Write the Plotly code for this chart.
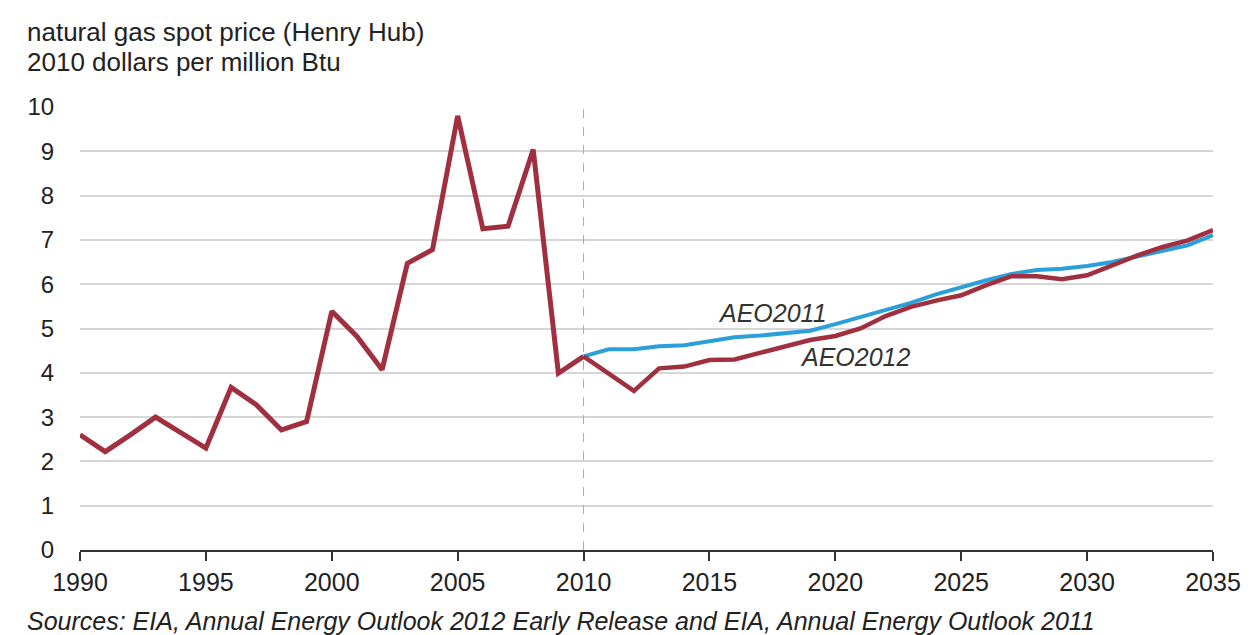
import plotly.graph_objects as go

hist_years = list(range(1990, 2011))
hist_price = [2.60, 2.22, 2.60, 3.00, 2.65, 2.30, 3.67, 3.28, 2.71, 2.90, 5.39,
              4.82, 4.07, 6.47, 6.78, 9.80, 7.25, 7.31, 9.04, 3.99, 4.37]

proj_years = list(range(2010, 2036))
aeo2012 = [4.37, 3.98, 3.59, 4.10, 4.14, 4.29, 4.30, 4.45, 4.60, 4.74, 4.83,
           5.00, 5.28, 5.49, 5.63, 5.75, 5.98, 6.18, 6.18, 6.11, 6.20, 6.43,
           6.65, 6.84, 6.99, 7.22]
aeo2011 = [4.37, 4.53, 4.53, 4.60, 4.62, 4.72, 4.80, 4.84, 4.89, 4.95, 5.10,
           5.26, 5.41, 5.58, 5.77, 5.94, 6.09, 6.23, 6.32, 6.35, 6.41, 6.50,
           6.62, 6.76, 6.88, 7.11]

x_ticks = [1990, 1995, 2000, 2005, 2010, 2015, 2020, 2025, 2030, 2035]
y_ticks = list(range(0, 11))

RED = "#A0303F"
BLUE = "#2B9FD9"
FONT = "Liberation Sans, Arial, sans-serif"
TXT = "#222222"

fig = go.Figure()
fig.add_trace(go.Scatter(x=proj_years, y=aeo2011, mode="lines",
                         line=dict(color=BLUE, width=4), name="AEO2011"))
fig.add_trace(go.Scatter(x=proj_years, y=aeo2012, mode="lines",
                         line=dict(color=RED, width=4.5), name="AEO2012"))
fig.add_trace(go.Scatter(x=hist_years, y=hist_price, mode="lines",
                         line=dict(color=RED, width=5), name="History"))

fig.add_shape(type="line", x0=2010, x1=2010, y0=0, y1=10, xref="x", yref="y",
              line=dict(color="#AAAAAA", width=1, dash="dash"))

fig.update_layout(
    width=1260, height=635,
    margin=dict(l=72, r=55, t=99, b=93),
    paper_bgcolor="white", plot_bgcolor="white",
    showlegend=False,
    font=dict(family=FONT, size=20, color=TXT),
    xaxis=dict(range=[1990, 2035], tickvals=x_ticks, showgrid=False,
               showline=True, linecolor="#333333", linewidth=2,
               ticks="outside", ticklen=9, tickwidth=2, tickcolor="#333333",
               tickfont=dict(size=25, color=TXT), zeroline=False),
    yaxis=dict(range=[0, 10], tickvals=y_ticks, showgrid=True,
               gridcolor="#D6D6D6", gridwidth=2, showline=False,
               zeroline=False, ticks="outside", ticklen=20,
               tickcolor="rgba(0,0,0,0)", tickfont=dict(size=24, color=TXT)),
    annotations=[
        dict(text="natural gas spot price (Henry Hub)", xref="paper", yref="paper",
             x=-0.0485, y=1.169, xanchor="left", yanchor="middle", showarrow=False,
             font=dict(size=26, color=TXT)),
        dict(text="2010 dollars per million Btu", xref="paper", yref="paper",
             x=-0.0485, y=1.1016, xanchor="left", yanchor="middle", showarrow=False,
             font=dict(size=26, color=TXT)),
        dict(text="History", x=2000.3, y=10.34, xref="x", yref="y",
             showarrow=False, font=dict(size=25, color=TXT)),
        dict(text="2010", x=2010.1, y=10.27, xref="x", yref="y",
             showarrow=False, font=dict(size=25, color=TXT)),
        dict(text="Projections", x=2022.8, y=10.34, xref="x", yref="y",
             showarrow=False, font=dict(size=25, color=TXT)),
        dict(text="<i>AEO2011</i>", x=2017.5, y=5.35, xref="x", yref="y",
             showarrow=False, font=dict(size=25, color="#333333")),
        dict(text="<i>AEO2012</i>", x=2020.8, y=4.36, xref="x", yref="y",
             showarrow=False, font=dict(size=25, color="#333333")),
        dict(text="<i>Sources: EIA, Annual Energy Outlook 2012 Early Release and EIA, Annual Energy Outlook 2011</i>",
             xref="paper", yref="paper", x=-0.0485, y=-0.160, xanchor="left",
             yanchor="middle", showarrow=False, font=dict(size=25, color=TXT)),
    ],
)

fig.write_html("out.html")
